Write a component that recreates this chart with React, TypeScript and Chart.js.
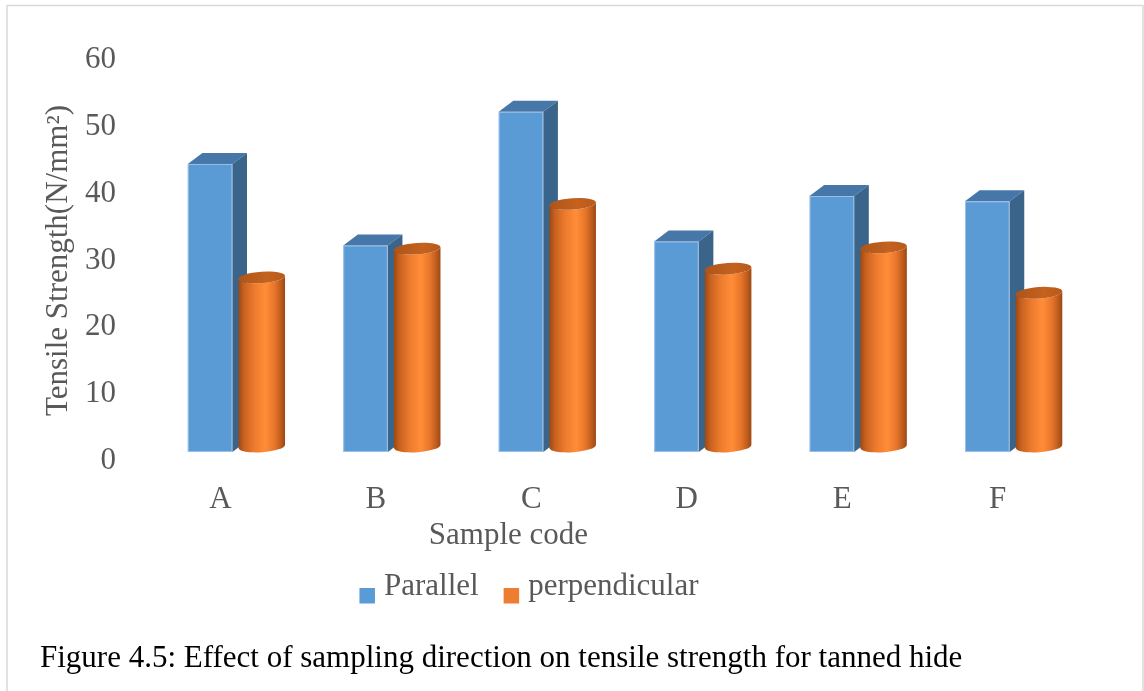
import { useEffect, useRef } from 'react';
import { Chart, registerables } from 'chart.js';

Chart.register(...registerables);

// Tensile strength (N/mm²) per sample, by sampling direction
const categories = ['A', 'B', 'C', 'D', 'E', 'F'];
const parallel = [43.1, 30.9, 50.9, 31.5, 38.3, 37.5];
const perpendicular = [25.3, 29.6, 36.3, 26.6, 29.8, 23.0];
const yTickValues = [0, 10, 20, 30, 40, 50, 60];
const seriesNames = ['Parallel', 'perpendicular'];
const seriesColors = ['#5B9BD5', '#ED7D31'];
const xTitle = 'Sample code';
const yTitle = 'Tensile Strength(N/mm²)';
const caption = 'Figure 4.5: Effect of sampling direction on tensile strength for tanned hide';

const FONT = '"Liberation Serif", "Times New Roman", serif';
const GREY = '#595959';
const W = 1144;
const H = 691;

function drawBox(ctx: CanvasRenderingContext2D, xl: number, xr: number, yt: number, yb: number, dx: number, dy: number) {
  // front face
  ctx.fillStyle = '#5B9BD5';
  ctx.fillRect(xl, yt, xr - xl, yb - yt);
  // top face
  ctx.beginPath();
  ctx.moveTo(xl, yt);
  ctx.lineTo(xr, yt);
  ctx.lineTo(xr + dx, yt + dy);
  ctx.lineTo(xl + dx, yt + dy);
  ctx.closePath();
  ctx.fillStyle = '#4677A8';
  ctx.fill();
  // side face
  ctx.beginPath();
  ctx.moveTo(xr, yt);
  ctx.lineTo(xr + dx, yt + dy);
  ctx.lineTo(xr + dx, yb + dy);
  ctx.lineTo(xr, yb);
  ctx.closePath();
  ctx.fillStyle = '#3A6489';
  ctx.fill();
  // soft light edge round the front face
  ctx.strokeStyle = 'rgba(200,222,245,0.55)';
  ctx.lineWidth = 1;
  ctx.strokeRect(xl + 0.5, yt + 0.5, xr - xl - 1, yb - yt - 1);
}

function drawCylinder(ctx: CanvasRenderingContext2D, cx: number, yTop: number, yBot: number, rx: number, ry: number, rot: number) {
  const pt = (cy: number, a: number): [number, number] => [
    cx + rx * Math.cos(a) * Math.cos(rot) - ry * Math.sin(a) * Math.sin(rot),
    cy + rx * Math.cos(a) * Math.sin(rot) + ry * Math.sin(a) * Math.cos(rot),
  ];
  const body = ctx.createLinearGradient(cx - rx, 0, cx + rx, 0);
  body.addColorStop(0, '#9C4814');
  body.addColorStop(0.12, '#C8621F');
  body.addColorStop(0.35, '#EE7C2E');
  body.addColorStop(0.58, '#FF8D38');
  body.addColorStop(0.78, '#E6752A');
  body.addColorStop(0.92, '#B95A1C');
  body.addColorStop(1, '#9A4714');

  ctx.beginPath();
  const p1 = pt(yTop, Math.PI);
  ctx.moveTo(p1[0], p1[1]);
  const p2 = pt(yBot, Math.PI);
  ctx.lineTo(p2[0], p2[1]);
  ctx.ellipse(cx, yBot, rx, ry, rot, Math.PI, 0, true);
  const p3 = pt(yTop, 0);
  ctx.lineTo(p3[0], p3[1]);
  ctx.ellipse(cx, yTop, rx, ry, rot, 0, Math.PI, false);
  ctx.closePath();
  ctx.fillStyle = body;
  ctx.fill();

  const top = ctx.createLinearGradient(cx - rx, 0, cx + rx, 0);
  top.addColorStop(0, '#AE5419');
  top.addColorStop(0.6, '#C4621F');
  top.addColorStop(1, '#B85A1C');
  ctx.beginPath();
  ctx.ellipse(cx, yTop, rx, ry, rot, 0, Math.PI * 2);
  ctx.fillStyle = top;
  ctx.fill();
}

const bars3d = {
  id: 'bars3d',
  beforeDraw(chart: any) {
    const { ctx } = chart;
    ctx.save();
    ctx.fillStyle = '#ffffff';
    ctx.fillRect(0, 0, W, H);
    ctx.strokeStyle = '#D9D9D9';
    ctx.lineWidth = 1.5;
    ctx.beginPath();
    ctx.moveTo(7, H);
    ctx.lineTo(7, 5.5);
    ctx.lineTo(1143, 5.5);
    ctx.lineTo(1143, H);
    ctx.stroke();
    ctx.restore();
  },
  beforeDatasetsDraw(chart: any) {
    const { ctx } = chart;
    const xs = chart.scales.x;
    const ys = chart.scales.y;
    const cw = xs.getPixelForValue(1) - xs.getPixelForValue(0);
    const fx = 0.077 * cw; // front plane shift from the axis plane
    const fy = -0.058 * cw;
    const ddx = 0.094 * cw; // depth of a column
    const ddy = -0.0707 * cw;
    const bw = 0.287 * cw;
    const cylOff = 0.266 * cw;
    const rx = 0.15 * cw;
    const ry = 5.7;
    const base = ys.getPixelForValue(0);
    ctx.save();
    const a = chart.data.datasets[0].data as number[];
    const b = chart.data.datasets[1].data as number[];
    for (let i = 0; i < a.length; i++) {
      const c = xs.getPixelForValue(i);
      const xr = c + fx;
      drawBox(ctx, xr - bw, xr, ys.getPixelForValue(a[i]) + fy, base + fy, ddx, ddy);
      const my = fy + ddy / 2;
      drawCylinder(ctx, c + cylOff, ys.getPixelForValue(b[i]) + my, base + my, rx, ry, -0.07);
    }
    ctx.restore();
    return false;
  },
  afterDraw(chart: any) {
    const { ctx } = chart;
    ctx.save();
    // x axis title
    ctx.font = `31px ${FONT}`;
    ctx.fillStyle = GREY;
    ctx.textAlign = 'center';
    ctx.textBaseline = 'alphabetic';
    ctx.fillText(xTitle, 508.5, 544);

    // legend
    const items = chart.data.datasets.map((d: any) => ({ text: d.label, color: d.backgroundColor }));
    const box = 15.5;
    const gapText = 9;
    const gapItem = 25;
    const widths = items.map((it: any) => ctx.measureText(it.text).width);
    const total = widths.reduce((s: number, w: number) => s + box + gapText + w, 0) + gapItem * (items.length - 1);
    let x = 529 - total / 2;
    ctx.textAlign = 'left';
    items.forEach((it: any, i: number) => {
      ctx.fillStyle = it.color;
      ctx.fillRect(x, 588, box, box);
      x += box + gapText;
      ctx.fillStyle = GREY;
      ctx.fillText(it.text, x, 595);
      x += widths[i] + gapItem;
    });

    // figure caption
    ctx.font = `31px ${FONT}`;
    ctx.fillStyle = '#000000';
    ctx.fillText(caption, 40, 667);
    ctx.restore();
  },
};

export default function App() {
  const ref = useRef<HTMLCanvasElement | null>(null);

  useEffect(() => {
    if (!ref.current) return;
    const chart = new Chart(ref.current, {
      type: 'bar',
      data: {
        labels: categories,
        datasets: [
          { label: seriesNames[0], data: parallel, backgroundColor: seriesColors[0] },
          { label: seriesNames[1], data: perpendicular, backgroundColor: seriesColors[1] },
        ],
      },
      options: {
        responsive: false,
        animation: false,
        devicePixelRatio: 1,
        layout: { padding: { left: 0, right: 68.6, top: 60, bottom: 170 } },
        plugins: { legend: { display: false }, tooltip: { enabled: false }, title: { display: false } },
        scales: {
          x: {
            grid: { display: false },
            border: { display: false },
            ticks: { font: { family: FONT, size: 31 }, color: GREY, padding: 12 },
            afterFit: (s: any) => { s.height = 60; },
          },
          y: {
            min: 0,
            max: 60,
            grid: { display: false },
            border: { display: false },
            afterBuildTicks: (s: any) => { s.ticks = yTickValues.map((v) => ({ value: v })); },
            ticks: { font: { family: FONT, size: 31 }, color: GREY, padding: 18.7 },
            title: {
              display: true,
              text: yTitle,
              font: { family: FONT, size: 31 },
              color: GREY,
              padding: { top: 40, bottom: 0 },
            },
            afterFit: (s: any) => { s.width = 142.7; },
          },
        },
      },
      plugins: [bars3d],
    });
    return () => chart.destroy();
  }, []);

  return (
    <div style={{ position: 'absolute', left: 0, top: 0, width: W, height: H }}>
      <canvas ref={ref} width={W} height={H} style={{ display: 'block', width: W, height: H }} />
    </div>
  );
}
